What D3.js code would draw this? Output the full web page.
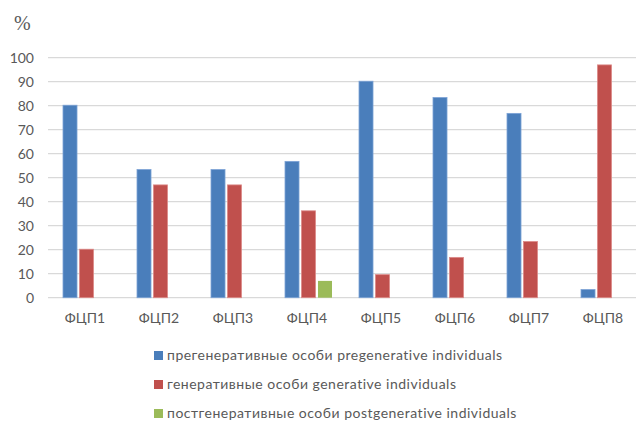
<!DOCTYPE html>
<html>
<head>
<meta charset="utf-8">
<script src="https://cdn.jsdelivr.net/npm/d3@7"></script>
<style>
  html, body { margin: 0; padding: 0; background: #fff; }
  svg { display: block; }
</style>
</head>
<body>
<svg id="chart" width="637" height="421"></svg>
<script>
// Доли возрастных групп по ценопопуляциям (%)
const categories = ["ФЦП1", "ФЦП2", "ФЦП3", "ФЦП4", "ФЦП5", "ФЦП6", "ФЦП7", "ФЦП8"];
const seriesNames = [
  "прегенеративные особи pregenerative individuals",
  "генеративные особи generative individuals",
  "постгенеративные особи postgenerative individuals"
];
const pregenerative  = [80.2, 53.4, 53.4, 56.8, 90.2, 83.4, 76.8, 3.4];
const generative     = [20.2, 47.0, 47.0, 36.2, 9.6, 16.8, 23.4, 97.0];
const postgenerative = [0, 0, 0, 7.0, 0, 0, 0, 0];
const yTicks = [0, 10, 20, 30, 40, 50, 60, 70, 80, 90, 100];
const colors = ["#4a7ebb", "#c0504d", "#9bbb59"];
const strokes = ["#7da3d6", "#dc8a88", "none"];

const values = [pregenerative, generative, postgenerative];
const svg = d3.select("#chart");
const font = "Lato, 'Open Sans', sans-serif";
const textColor = "#595959";

const x0 = d3.scaleBand().domain(categories).range([48, 640]).padding(0);
const x1 = d3.scaleBand().domain(d3.range(seriesNames.length)).range([15, 62]).paddingInner(0.15).paddingOuter(0);
const y = d3.scaleLinear().domain([0, 100]).range([297.7, 57.7]);

// gridlines
svg.append("g")
  .selectAll("line")
  .data(yTicks)
  .join("line")
  .attr("x1", 48).attr("x2", 636)
  .attr("y1", d => y(d)).attr("y2", d => y(d))
  .attr("stroke", "#d9d9d9")
  .attr("stroke-width", 1.3);

// y axis labels
const yAxis = d3.axisLeft(y).tickValues(yTicks).tickSize(0).tickPadding(0);
const gy = svg.append("g").attr("transform", "translate(34,0)").call(yAxis);
gy.select(".domain").remove();
gy.selectAll("text")
  .attr("fill", textColor)
  .style("font-family", font)
  .style("font-size", "14px");

// x axis labels
const xAxis = d3.axisBottom(x0).tickSize(0).tickPadding(0);
const gx = svg.append("g").attr("transform", "translate(0,313)").call(xAxis);
gx.select(".domain").remove();
gx.selectAll("text")
  .attr("fill", textColor)
  .style("font-family", font)
  .style("font-size", "14px");

// bars
const groups = svg.append("g")
  .selectAll("g")
  .data(categories)
  .join("g")
  .attr("transform", d => `translate(${x0(d)},0)`);

groups.selectAll("rect")
  .data((c, ci) => values.map((arr, si) => ({ si, v: arr[ci] })).filter(d => d.v > 0))
  .join("rect")
  .attr("x", d => x1(d.si))
  .attr("width", x1.bandwidth())
  .attr("y", d => y(d.v))
  .attr("height", d => y(0) - y(d.v))
  .attr("fill", d => colors[d.si])
  .attr("stroke", d => strokes[d.si])
  .attr("stroke-width", 0.8);

// unit label
svg.append("text")
  .attr("x", 14).attr("y", 30)
  .attr("fill", textColor)
  .style("font-family", "'Liberation Serif', serif")
  .style("font-size", "20px")
  .text("%");

// legend
const legend = svg.append("g")
  .selectAll("g")
  .data(seriesNames)
  .join("g")
  .attr("transform", (d, i) => `translate(154,${351 + i * 29})`);
legend.append("rect")
  .attr("width", 9).attr("height", 9)
  .attr("fill", (d, i) => colors[i]);
legend.append("text")
  .attr("x", 13).attr("y", 4.5)
  .attr("dy", "0.35em")
  .attr("fill", textColor)
  .style("font-family", font)
  .style("font-size", "14px")
  .style("letter-spacing", "0.5px")
  .text(d => d);
</script>
</body>
</html>
